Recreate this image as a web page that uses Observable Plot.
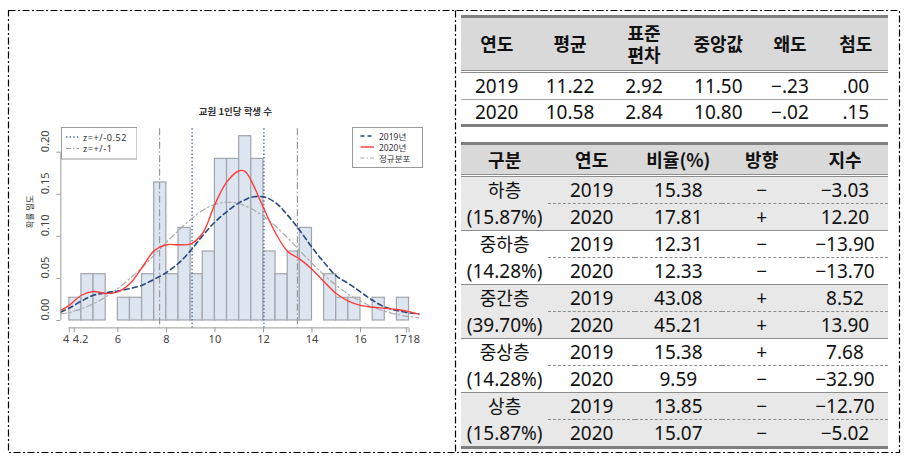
<!DOCTYPE html>
<html><head><meta charset="utf-8">
<script src="https://cdn.jsdelivr.net/npm/d3@7"></script>
<script src="https://cdn.jsdelivr.net/npm/@observablehq/plot@0.6"></script>
<style>
html,body{margin:0;padding:0;background:#fff;}
#root{position:relative;width:914px;height:463px;overflow:hidden;font-family:"Noto Sans CJK KR","Noto Sans",sans-serif;}
.cell{text-align:center;box-sizing:content-box;}
.hd{font-family:"Noto Sans CJK KR",sans-serif;font-weight:bold;font-size:18px;color:#111;}
.dt{font-family:"Noto Sans","Noto Sans CJK KR",sans-serif;font-size:19px;color:#111;}
</style></head><body><div id="root"></div>
<script>
// ---------- chart data ----------
const chartTitle = "교원 1인당 학생 수";
const yLabel = "확률 밀도";
const binEdges = [4,4.5,5,5.5,6,6.5,7,7.5,8,8.5,9,9.5,10,10.5,11,11.5,12,12.5,13,13.5,14,14.5,15,15.5,16,16.5,17,17.5,18];
const binDensity = [0.027,0.055,0.055,0,0.027,0.027,0.055,0.164,0.055,0.110,0.055,0.082,0.192,0.192,0.219,0.192,0.082,0.055,0.082,0.110,0,0.055,0.027,0.027,0,0.027,0,0.027];
const curveX = [3.65,4,4.5,5,5.5,6,6.5,7,7.5,8,8.5,9,9.5,10,10.5,11,11.25,11.5,12,12.5,13,13.5,14,14.5,15,15.5,16,16.5,17,17.5,18,18.45];
const dens2019 = [0.0099,0.0147,0.023,0.030,0.033,0.035,0.038,0.042,0.049,0.057,0.068,0.083,0.101,0.117,0.1295,0.140,0.1435,0.1465,0.147,0.140,0.125,0.107,0.087,0.069,0.053,0.044,0.034,0.024,0.016,0.012,0.009,0.008];
const dens2020 = [0.0119,0.018,0.030,0.0345,0.032,0.034,0.044,0.063,0.083,0.090,0.090,0.091,0.104,0.138,0.165,0.178,0.177,0.166,0.134,0.104,0.082,0.073,0.061,0.046,0.032,0.023,0.018,0.0158,0.0145,0.013,0.0105,0.007];
const densNormal = [0.008,0.0095,0.014,0.020,0.028,0.038,0.050,0.063,0.078,0.093,0.107,0.120,0.131,0.138,0.1405,0.139,0.136,0.133,0.124,0.112,0.098,0.083,0.068,0.054,0.042,0.031,0.023,0.016,0.011,0.0072,0.0046,0.003];
const zDotted = [9.06, 12.02];   // z = +/-0.52
const zDashDot = [7.72, 13.40];  // z = +/-1
const xTicks = [4, 4.2, 6, 8, 10, 12, 14, 16, 17.9, 18];
const xTickLabels = ["4","4.2","6","8","10","12","14","16","17","18"];
const yTicks = [0, 0.05, 0.10, 0.15, 0.20];
const zLegend = ["z=+/-0.52", "z=+/-1"];
const seriesLegend = ["2019년", "2020년", "정규분포"];

// ---------- table data ----------
const statHeaders = ["연도","평균","표준\n편차","중앙값","왜도","첨도"];
const statYears = ["2019","2020"];
const statMean = ["11.22","10.58"];
const statSd = ["2.92","2.84"];
const statMedian = ["11.50","10.80"];
const statSkew = ["−.23","−.02"];
const statKurt = [".00",".15"];

const layerHeaders = ["구분","연도","비율(%)","방향","지수"];
const layerNames = ["하층","중하층","중간층","중상층","상층"];
const layerShares = ["(15.87%)","(14.28%)","(39.70%)","(14.28%)","(15.87%)"];
const layerYears = ["2019","2020"];
const ratio2019 = ["15.38","12.31","43.08","15.38","13.85"];
const ratio2020 = ["17.81","12.33","45.21","9.59","15.07"];
const dir2019 = ["−","−","+","+","−"];
const dir2020 = ["+","−","+","−","−"];
const index2019 = ["−3.03","−13.90","8.52","7.68","−12.70"];
const index2020 = ["12.20","−13.70","13.90","−32.90","−5.02"];

// ---------- build chart ----------
const root = document.getElementById("root");
const W = 440, H = 265;
const xDomain = [3.652, 18.448];
const yDomain = [-0.0088, 0.2278];
const bins = binDensity.map((d, i) => ({x1: binEdges[i], x2: binEdges[i + 1], y: d}));
const mk = (arr) => curveX.map((x, i) => ({x, y: arr[i]}));
const anchorOf = (i) => {
  if (i + 1 < xTicks.length && xTicks[i + 1] - xTicks[i] < 0.5) return "end";
  if (i > 0 && xTicks[i] - xTicks[i - 1] < 0.5) return "start";
  return "middle";
};
const idx = xTicks.map((_, i) => i);
const labelMark = (anchor) => Plot.text(idx.filter(i => anchorOf(i) === anchor), {
  x: i => xTicks[i], text: i => xTickLabels[i], frameAnchor: "bottom", dy: 15.5,
  dx: anchor === "start" ? -1.5 : 0, textAnchor: anchor, fontSize: 11, fill: "#444"
});

const chart = Plot.plot({
  width: W, height: H,
  marginLeft: 60.35, marginRight: W - 419.4, marginTop: 33.3, marginBottom: 32.6,
  x: {domain: xDomain, axis: null},
  y: {domain: yDomain, axis: null},
  style: {fontFamily: '"Noto Sans","Noto Sans CJK KR",sans-serif', background: "transparent", overflow: "visible"},
  marks: [
    Plot.rectY(bins, {x1: "x1", x2: "x2", y1: 0, y2: "y", fill: "#dde5f1", stroke: "#a0a4ab", strokeWidth: 1.2}),
    Plot.ruleX(zDotted, {stroke: "#4d6fa6", strokeDasharray: "1.4,2.2", strokeWidth: 1.4}),
    Plot.ruleX(zDashDot, {stroke: "#999", strokeDasharray: "7,2.5,1.5,2.5", strokeWidth: 1.2}),
    Plot.line(mk(densNormal), {x: "x", y: "y", stroke: "#a9a9a9", strokeWidth: 1.2, strokeDasharray: "6,3,1.5,3", curve: "catmull-rom", clip: true}),
    Plot.line(mk(dens2019), {x: "x", y: "y", stroke: "#27497d", strokeWidth: 1.6, strokeDasharray: "5,3.5", curve: "catmull-rom", clip: true}),
    Plot.line(mk(dens2020), {x: "x", y: "y", stroke: "#ff3b3b", strokeWidth: 1.4, curve: "catmull-rom", clip: true}),
    Plot.ruleY([yDomain[0]], {x1: xTicks[0], x2: xTicks[xTicks.length - 1], stroke: "#9a9a9a"}),
    Plot.ruleX([xDomain[0]], {y1: yTicks[0], y2: yTicks[yTicks.length - 1], stroke: "#9a9a9a"}),
    Plot.axisX(xTicks, {tickSize: 5, tickFormat: () => "", stroke: "#9a9a9a", label: null}),
    Plot.axisY(yTicks, {tickSize: 4, tickFormat: () => "", stroke: "#9a9a9a", label: null}),
    labelMark("end"), labelMark("start"), labelMark("middle"),
    Plot.text(yTicks, {y: d => d, text: d => d3.format(".2f")(d), frameAnchor: "left", dx: -15, rotate: -90, fontSize: 11, fill: "#444"}),
    Plot.text([yLabel], {text: d => d, frameAnchor: "left", dx: -31, rotate: -90, fontSize: 8.5, fill: "#333", fontFamily: '"Noto Sans CJK KR",sans-serif'}),
    Plot.text([chartTitle], {text: d => d, frameAnchor: "top", dy: -21, dx: -5, fontSize: 9.5, fontWeight: "bold", fill: "#333", fontFamily: '"Noto Sans CJK KR",sans-serif'})
  ]
});
chart.style.position = "absolute";
chart.style.left = "0px";
chart.style.top = "95px";
root.appendChild(chart);

// ---------- legends (inline svg) ----------
const NS = "http://www.w3.org/2000/svg";
function svgEl(tag, attrs, parent) {
  const e = document.createElementNS(NS, tag);
  for (const k in attrs) e.setAttribute(k, attrs[k]);
  if (parent) parent.appendChild(e);
  return e;
}
function legend(left, top, w, h, rows, items) {
  const s = svgEl("svg", {width: w + 1, height: h + 1});
  s.style.position = "absolute"; s.style.left = left + "px"; s.style.top = top + "px";
  svgEl("rect", {x: 0.5, y: 0.5, width: w, height: h, fill: "#fff", stroke: "#9a9a9a"}, s);
  items.forEach((it, i) => {
    svgEl("line", {x1: it.lx1, x2: it.lx2, y1: rows[i], y2: rows[i], stroke: it.stroke, "stroke-width": it.sw, "stroke-dasharray": it.dash || "none"}, s);
    const t = svgEl("text", {x: it.tx, y: rows[i], "dominant-baseline": "central", "font-size": it.fs, fill: "#333", "font-family": '"Noto Sans","Noto Sans CJK KR",sans-serif', "letter-spacing": it.ls || 0}, s);
    t.textContent = it.label;
  });
  root.appendChild(s);
}
legend(60.5, 127, 75.5, 31.5, [10, 21.5], [
  {label: zLegend[0], lx1: 5, lx2: 18, tx: 22, stroke: "#4d6fa6", sw: 1.4, dash: "1.4,2.2", fs: 9, ls: 0.6},
  {label: zLegend[1], lx1: 5, lx2: 18, tx: 22, stroke: "#999", sw: 1.2, dash: "5,2,1.5,2", fs: 9, ls: 0.6}
]);
legend(351.5, 127, 70, 40, [9, 20, 31], [
  {label: seriesLegend[0], lx1: 8.5, lx2: 22, tx: 27, stroke: "#27497d", sw: 1.6, dash: "4,3", fs: 8.5},
  {label: seriesLegend[1], lx1: 8.5, lx2: 22, tx: 27, stroke: "#ff3b3b", sw: 1.4, fs: 8.5},
  {label: seriesLegend[2], lx1: 8.5, lx2: 22, tx: 27, stroke: "#a9a9a9", sw: 1.2, dash: "4,2,1.5,2", fs: 8.5}
]);

// ---------- tables ----------
function div(parent, css, text) {
  const d = document.createElement("div");
  Object.assign(d.style, css);
  if (text !== undefined) d.textContent = text;
  parent.appendChild(d);
  return d;
}
const isKo = (s) => /[가-힣]/.test(s);
function dataCell(row, txt, w, h, extra) {
  const c = div(row, Object.assign({width: w + "px", height: h + "px", lineHeight: h + "px"}, extra || {}), txt);
  c.className = "cell dt";
  if (isKo(txt)) c.style.fontSize = "18px";
  return c;
}

// Table 1
const w1 = [72, 74.6, 73.4, 75.3, 68, 63.7];
const t1 = div(root, {position: "absolute", left: "460.7px", top: "15px", width: "427px"});
div(t1, {height: "3px", background: "#7f7f7f"});
const h1 = div(t1, {height: "52px", background: "#d9d9d9", display: "flex", alignItems: "center"});
statHeaders.forEach((t, i) => {
  const c = div(h1, {width: w1[i] + "px", whiteSpace: "pre-line", lineHeight: "21.6px"}, t);
  c.className = "cell hd";
});
div(t1, {height: "3px", boxSizing: "border-box", borderTop: "1px solid #8c8c8c", borderBottom: "1px solid #8c8c8c"});
statYears.forEach((y, r) => {
  const row = div(t1, {display: "flex", borderBottom: r === 0 ? "1px solid #a6a6a6" : "none"});
  const vals = [y, statMean[r], statSd[r], statMedian[r], statSkew[r], statKurt[r]];
  vals.forEach((v, i) => dataCell(row, v, w1[i], r === 0 ? 26 : 24));
});
div(t1, {height: "3px", background: "#7f7f7f"});

// Table 2
const w2 = [87.3, 86.7, 86.7, 80, 86.6];
const t2 = div(root, {position: "absolute", left: "461px", top: "142px", width: "427.3px"});
div(t2, {height: "3px", background: "#7f7f7f"});
const h2 = div(t2, {height: "29px", background: "#d9d9d9", display: "flex", alignItems: "center"});
layerHeaders.forEach((t, i) => {
  const c = div(h2, {width: w2[i] + "px", lineHeight: "29px"}, t);
  c.className = "cell hd";
});
div(t2, {height: "3px", boxSizing: "border-box", borderTop: "1px solid #8c8c8c", borderBottom: "1px solid #8c8c8c"});
layerNames.forEach((name, g) => {
  const bg = g % 2 === 0 ? "#e8e8e8" : "#ffffff";
  const r1 = div(t2, {display: "flex", background: bg});
  [name, layerYears[0], ratio2019[g], dir2019[g], index2019[g]].forEach((v, i) =>
    dataCell(r1, v, w2[i], 26, {borderBottom: i === 0 ? "1px solid transparent" : "1px dashed #8c8c8c"}));
  const r2 = div(t2, {display: "flex", background: bg, borderBottom: g < layerNames.length - 1 ? "1px solid #8c8c8c" : "none"});
  [layerShares[g], layerYears[1], ratio2020[g], dir2020[g], index2020[g]].forEach((v, i) =>
    dataCell(r2, v, w2[i], 26));
});
div(t2, {height: "3px", background: "#7f7f7f"});

// ---------- outer dash-dot frame ----------
const fr = svgEl("svg", {width: 914, height: 463});
fr.style.position = "absolute"; fr.style.left = "0px"; fr.style.top = "0px"; fr.style.pointerEvents = "none";
svgEl("rect", {x: 8.5, y: 10.5, width: 891, height: 442, fill: "none", stroke: "#000", "stroke-width": 1.2, "stroke-dasharray": "7,2.5,2,2.5"}, fr);
svgEl("line", {x1: 455.5, x2: 455.5, y1: 10.5, y2: 452.5, stroke: "#000", "stroke-width": 1.2, "stroke-dasharray": "7,2.5,2,2.5"}, fr);
root.appendChild(fr);
</script></body></html>
